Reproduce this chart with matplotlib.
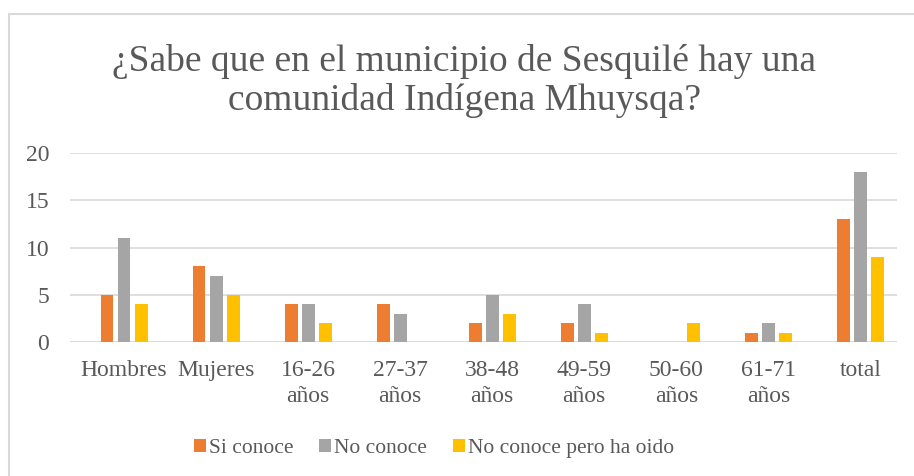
import matplotlib.pyplot as plt
import numpy as np
from matplotlib.patches import Rectangle

plt.rcParams['font.family'] = ['Liberation Serif', 'DejaVu Serif']

# Data
categories = ["Hombres", "Mujeres", "16-26\naños", "27-37\naños", "38-48\naños",
              "49-59\naños", "50-60\naños", "61-71\naños", "total"]
si_conoce = [5, 8, 4, 4, 2, 2, 0, 1, 13]
no_conoce = [11, 7, 4, 3, 5, 4, 0, 2, 18]
ha_oido = [4, 5, 2, 0, 3, 1, 2, 1, 9]

series = [("Si conoce", si_conoce, "#ED7D31"),
          ("No conoce", no_conoce, "#A5A5A5"),
          ("No conoce pero ha oido", ha_oido, "#FFC000")]

fig = plt.figure(figsize=(9.14, 4.76), dpi=100)
ax = fig.add_axes([0.0766, 0.2815, 0.905, 0.397])

x = np.arange(len(categories))
width = 0.14
step = 0.185
for i, (name, vals, color) in enumerate(series):
    ax.bar(x + (i - 1) * step, vals, width, color=color, label=name, zorder=3)

ax.set_xlim(-0.587, len(categories) - 0.6)
ax.set_ylim(0, 20)
ax.set_yticks([0, 5, 10, 15, 20])
ax.set_xticks(x)
ax.set_xticklabels(categories, linespacing=1.3)
ax.tick_params(axis='both', length=0, labelsize=17, colors="#595959")
ax.tick_params(axis='x', pad=13)
ax.tick_params(axis='y', pad=15)
ax.yaxis.grid(True, color="#D9D9D9", linewidth=1.2, zorder=0)
for s in ax.spines.values():
    s.set_visible(False)
ax.axhline(0, color="#D9D9D9", linewidth=1.2, zorder=1)

fig.text(0.508, 0.83, "¿Sabe que en el municipio de Sesquilé hay una\ncomunidad Indígena Mhuysqa?",
         ha='center', va='center', fontsize=27, color="#595959", linespacing=1.12)

fig.legend(loc='center', bbox_to_anchor=(0.475, 0.058), ncol=3, frameon=False,
           fontsize=15.5, labelcolor="#595959", handlelength=0.55, handleheight=0.55,
           handletextpad=0.15, columnspacing=1.2)

fig.patches.append(Rectangle((0.0095, -0.05), 1.2, 1.02, transform=fig.transFigure,
                             fill=False, edgecolor="#D9D9D9", linewidth=1.5))

fig.savefig("out.png", dpi=100)
